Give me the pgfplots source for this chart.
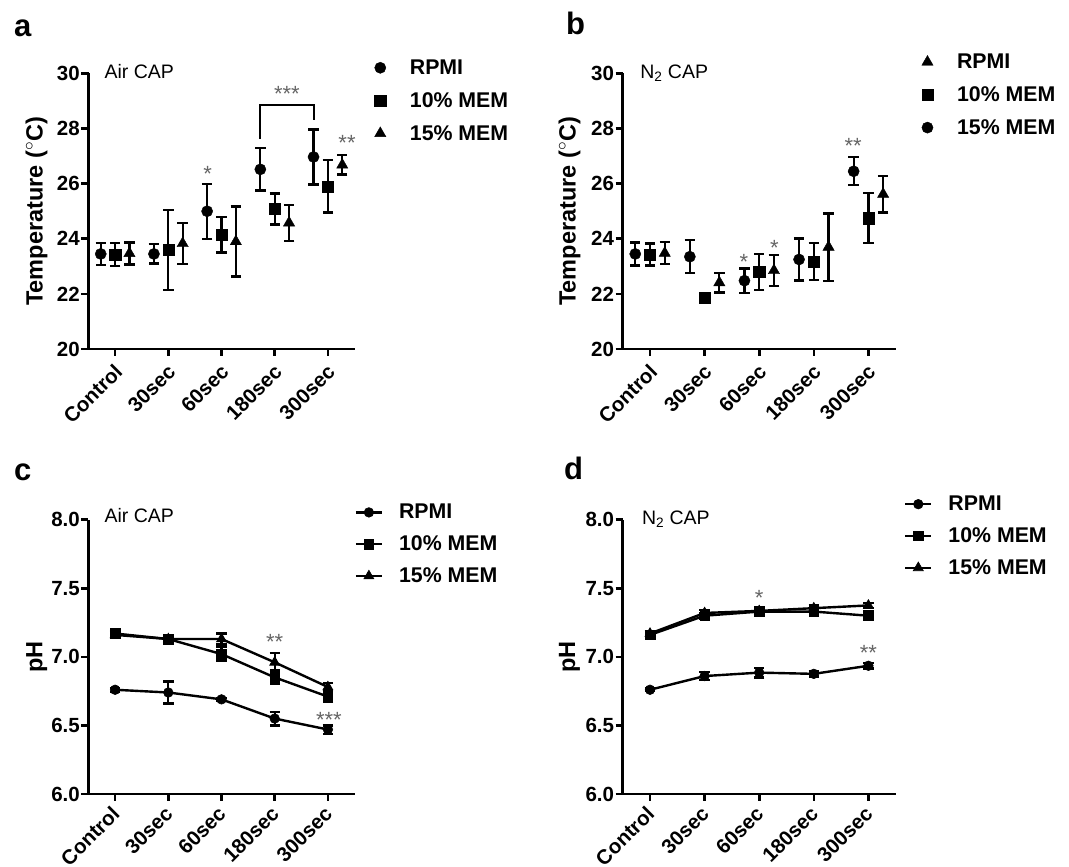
\documentclass[border=0pt]{standalone}
\usepackage{fontspec}
\setmainfont{Liberation Sans}
\usepackage{pgfplots}
\pgfplotsset{compat=1.18}
\usetikzlibrary{plotmarks}

\newcommand\tickfont{\fontsize{20.5}{23}\selectfont\bfseries}
\newcommand\labfont{\fontsize{23.5}{26}\selectfont\bfseries}
\newcommand\legfont{\fontsize{21.3}{24}\selectfont\bfseries}
\newcommand\titfont{\fontsize{19.5}{22}\selectfont}
\newcommand\letfont{\fontsize{31}{34}\selectfont\bfseries}
\newcommand\starfont{\fontsize{22}{22}\selectfont}

\tikzset{star/.style={font=\starfont, text=black!60, anchor=base, yshift=-12.5pt, inner sep=0pt}}

\pgfplotsset{
 gp/.style={
  scale only axis,
  axis x line*=bottom, axis y line*=left,
  axis line style={line width=2.8pt, -},
  x axis line style={line width=2.8pt},
  y axis line style={line width=2.8pt},
  major tick style={line width=2.6pt, black},
  tick align=outside,
  major tick length=7pt,
  xmin=-0.5, xmax=4.5,
  xtick={0,...,4},
  xticklabels={Control,30sec,60sec,180sec,300sec},
  xticklabel style={rotate=45, anchor=east, font=\tickfont, inner sep=1pt, yshift=-11pt, xshift=-5pt},
  yticklabel style={font=\tickfont, inner sep=1.5pt},
  ylabel style={font=\labfont, at={(axis description cs:-0.195,0.5)}, anchor=center},
  /pgf/number format/assume math mode=true,
  clip=false,
  legend cell align=left,
  legend style={draw=none, fill=none, font=\legfont, anchor=north west, row sep=12.5pt, inner sep=0pt},
 },
 low/.style={xticklabel style={yshift=4pt}},
 err/.style={error bars/.cd, y dir=both, y explicit,
   error bar style={line width=2.3pt},
   error mark options={rotate=90, mark size=5.2pt, line width=2.3pt}},
 dots/.style={only marks, black, mark size=5.6pt},
 ln/.style={black, line width=2.4pt, mark size=4.8pt, mark options={line width=0.6pt, solid}},
 lnleg/.style={legend image code/.code={\draw[mark repeat=2,mark phase=2,##1] plot coordinates {(0pt,0pt) (13pt,0pt) (26pt,0pt)};},
   legend style={row sep=11.5pt, /tikz/every odd column/.append style={column sep=14pt}}},
 dotleg/.style={legend style={/tikz/every odd column/.append style={column sep=22pt}}},
}

\begin{document}
\begin{tikzpicture}
\useasboundingbox (0pt,0pt) rectangle (1069pt,867pt);

% ---------------- panel a ----------------
\begin{axis}[gp, dotleg, at={(88.5pt,518pt)}, anchor=south west, width=266pt, height=275.5pt,
  ymin=20, ymax=30, ytick={20,22,...,30},
  ylabel={Temperature ($^{\circ}$C)},
  legend style={at={(1.075,1.058)}}]
\addplot[dots, mark=*, err] table[x=x,y=y,y error=e] {
x y e
-0.27 23.45 0.40
0.73 23.45 0.35
1.73 25.00 1.00
2.73 26.52 0.77
3.73 26.97 1.00
};
\addlegendentry{RPMI}
\addplot[dots, mark=square*, err] table[x=x,y=y,y error=e] {
x y e
0 23.43 0.42
1 23.60 1.45
2 24.15 0.65
3 25.08 0.56
4 25.90 0.95
};
\addlegendentry{10\% MEM}
\addplot[dots, mark=triangle*, mark size=6.5pt, err] table[x=x,y=y,y error=e] {
x y e
0.27 23.47 0.40
1.27 23.83 0.75
2.27 23.90 1.27
3.27 24.58 0.65
4.27 26.68 0.35
};
\addlegendentry{15\% MEM}
\draw[line width=2pt] (axis cs:2.73,27.63) -- (axis cs:2.73,28.87) -- (axis cs:3.73,28.87) -- (axis cs:3.73,28.3);
\node[star] at (axis cs:1.74,26.55) {*};
\node[star] at (axis cs:3.23,29.45) {***};
\node[star] at (axis cs:4.36,27.67) {**};
\node[font=\titfont, anchor=base west, inner sep=0pt] at (axis description cs:0.06,0.982) {Air CAP};
\end{axis}

% ---------------- panel b ----------------
\begin{axis}[gp, dotleg, at={(622.7pt,518pt)}, anchor=south west, width=273pt, height=275.5pt,
  ymin=20, ymax=30, ytick={20,22,...,30},
  ylabel={Temperature ($^{\circ}$C)},
  legend style={at={(1.095,1.079)}}]
\addplot[dots, mark=triangle*, mark size=6.5pt, err] table[x=x,y=y,y error=e] {
x y e
0.27 23.48 0.40
1.27 22.41 0.36
2.27 22.85 0.57
3.27 23.70 1.22
4.27 25.62 0.67
};
\addlegendentry{RPMI}
\addplot[dots, mark=square*, err] table[x=x,y=y,y error=e] {
x y e
0 23.43 0.40
1 21.85 0.10
2 22.80 0.65
3 23.18 0.67
4 24.75 0.91
};
\addlegendentry{10\% MEM}
\addplot[dots, mark=*, err] table[x=x,y=y,y error=e] {
x y e
-0.27 23.45 0.42
0.73 23.35 0.60
1.73 22.48 0.44
2.73 23.25 0.76
3.73 26.45 0.51
};
\addlegendentry{15\% MEM}
\node[star] at (axis cs:3.72,27.56) {**};
\node[star] at (axis cs:1.72,23.35) {*};
\node[star] at (axis cs:2.28,23.85) {*};
\node[font=\titfont, anchor=base west, inner sep=0pt] at (axis description cs:0.064,0.982) {N\textsubscript{2} CAP};
\end{axis}

% ---------------- panel c ----------------
\begin{axis}[gp, low, lnleg, at={(88.5pt,73pt)}, anchor=south west, width=266pt, height=274.3pt,
  ymin=6, ymax=8, ytick={6,6.5,...,8},
  yticklabel style={/pgf/number format/.cd, fixed, fixed zerofill, precision=1},
  ylabel={pH},
  legend style={at={(1.0,1.064)}}]
\addplot[ln, mark=*, err] table[x=x,y=y,y error=e] {
x y e
0 6.76 0.015
1 6.74 0.08
2 6.69 0.01
3 6.55 0.05
4 6.47 0.03
};
\addlegendentry{RPMI}
\addplot[ln, mark=square*, err] table[x=x,y=y,y error=e] {
x y e
0 7.17 0.02
1 7.13 0.015
2 7.02 0.05
3 6.85 0.05
4 6.71 0.04
};
\addlegendentry{10\% MEM}
\addplot[ln, mark=triangle*, mark size=5.8pt, err] table[x=x,y=y,y error=e] {
x y e
0 7.16 0.02
1 7.13 0.015
2 7.13 0.04
3 6.96 0.07
4 6.78 0.03
};
\addlegendentry{15\% MEM}
\node[star] at (axis cs:3,7.146) {**};
\node[star] at (axis cs:4.02,6.577) {***};
\node[font=\titfont, anchor=base west, inner sep=0pt] at (axis description cs:0.06,0.989) {Air CAP};
\end{axis}

% ---------------- panel d ----------------
\begin{axis}[gp, low, lnleg, at={(622.7pt,73pt)}, anchor=south west, width=273pt, height=274.3pt,
  ymin=6, ymax=8, ytick={6,6.5,...,8},
  yticklabel style={/pgf/number format/.cd, fixed, fixed zerofill, precision=1},
  ylabel={pH},
  legend style={at={(1.03,1.094)}}]
\addplot[ln, mark=*, err] table[x=x,y=y,y error=e] {
x y e
0 6.76 0.01
1 6.86 0.03
2 6.885 0.035
3 6.876 0.02
4 6.935 0.02
};
\addlegendentry{RPMI}
\addplot[ln, mark=square*, err] table[x=x,y=y,y error=e] {
x y e
0 7.16 0.03
1 7.30 0.02
2 7.33 0.02
3 7.33 0.02
4 7.30 0.03
};
\addlegendentry{10\% MEM}
\addplot[ln, mark=triangle*, mark size=5.8pt, err] table[x=x,y=y,y error=e] {
x y e
0 7.17 0.02
1 7.32 0.02
2 7.335 0.02
3 7.355 0.02
4 7.375 0.02
};
\addlegendentry{15\% MEM}
\node[star] at (axis cs:2,7.467) {*};
\node[star] at (axis cs:4,7.066) {**};
\node[font=\titfont, anchor=base west, inner sep=0pt] at (axis description cs:0.07,0.982) {N\textsubscript{2} CAP};
\end{axis}

% panel letters
\node[font=\letfont, anchor=base west, inner sep=0pt] at (14pt,830pt) {a};
\node[font=\letfont, anchor=base west, inner sep=0pt] at (566pt,832pt) {b};
\node[font=\letfont, anchor=base west, inner sep=0pt] at (14pt,386pt) {c};
\node[font=\letfont, anchor=base west, inner sep=0pt] at (564pt,387pt) {d};
\end{tikzpicture}
\end{document}
